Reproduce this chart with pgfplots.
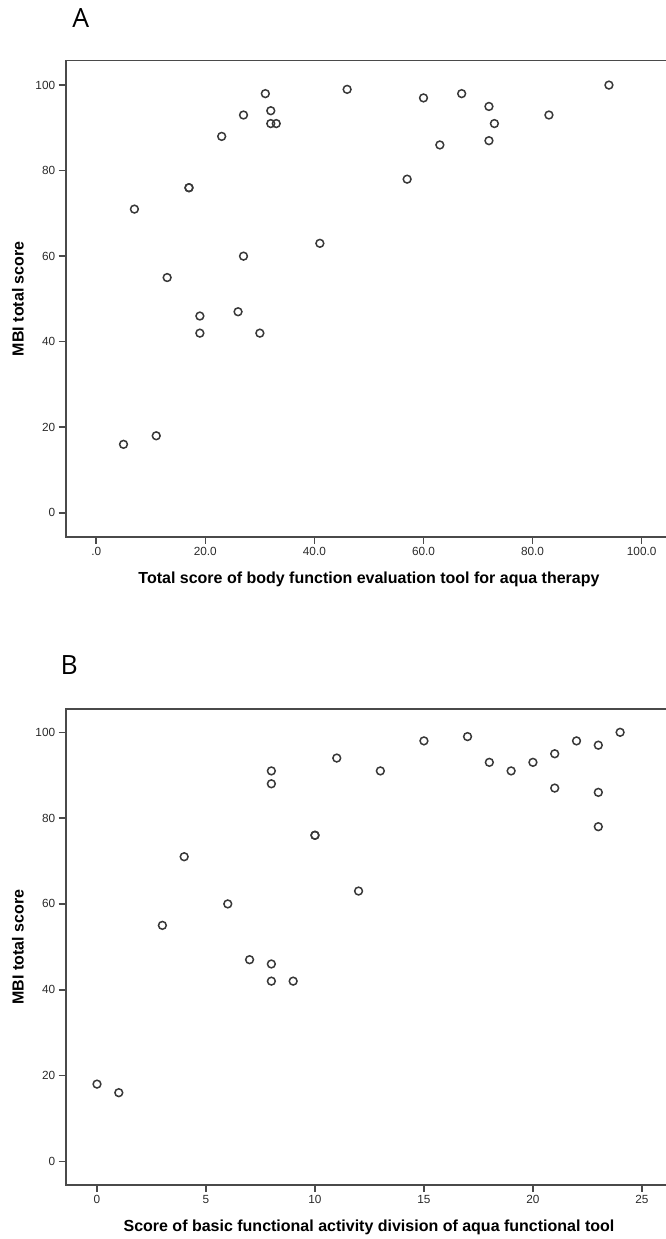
\documentclass[border=0pt]{standalone}
\usepackage{pgfplots}
\pgfplotsset{compat=1.18}
\usepackage{fontspec}
\setmainfont{Liberation Sans}
\newfontfamily\panelfont{Open Sans}
\definecolor{axgray}{HTML}{4A4A4A}
\definecolor{markgray}{HTML}{383838}
\definecolor{txtgray}{HTML}{2A2A2A}

\pgfplotsset{
  spss/.style={
    scale only axis, width=606.5pt, height=476pt,
    anchor=south west,
    axis line style={axgray, line width=1.6pt},
    tick style={axgray, line width=1.6pt},
    tick align=outside, major tick length=7pt,
    xtick pos=left, ytick pos=left,
    ytick={0,20,...,100},
    ticklabel style={font=\fontsize{11.8}{12}\selectfont, text=txtgray},
    /pgf/number format/assume math mode=true,
    label style={font=\bfseries\fontsize{16}{18}\selectfont, text=black},
    xlabel style={at={(axis description cs:0.5,-0.0889)}, anchor=center},
    ylabel style={at={(axis description cs:-0.0787,0.5)}, anchor=center},
  },
  spssmark/.style={only marks, mark=o, mark size=3.9pt, color=markgray,
    mark options={draw=markgray, fill=white, line width=1.5pt}},
}

\begin{document}
\begin{tikzpicture}[x=1pt,y=1pt]
\useasboundingbox (0,0) rectangle (666,-1239);
\node[font=\panelfont\fontsize{26.5}{28}\selectfont] at (80.7,-18.3) {A};
\node[font=\panelfont\fontsize{26.5}{28}\selectfont] at (69.3,-665) {B};

\begin{axis}[spss, at={(65.7pt,-536.7pt)},
  xmin=-5.6, xmax=105.6, ymin=-5.6, ymax=105.7,
  xtick={0,20,...,100}, xticklabels={.0,20.0,40.0,60.0,80.0,100.0},
  xlabel={Total score of body function evaluation tool for aqua therapy},
  ylabel={MBI total score}]
\addplot[spssmark] coordinates {
(5,16) (11,18) (7,71) (13,55) (17,76) (17,76) (19,46) (19,42) (23,88)
(26,47) (27,60) (27,93) (30,42) (31,98) (32,94) (32,91) (33,91) (41,63)
(46,99) (57,78) (60,97) (63,86) (67,98) (72,95) (73,91) (72,87) (83,93)
(94,100)
};
\end{axis}

\begin{axis}[spss, at={(65.7pt,-1185pt)},
  xmin=-1.436, xmax=26.39, ymin=-5.52, ymax=105.43,
  xtick={0,5,...,25},
  xlabel={Score of basic functional activity division of aqua functional tool},
  ylabel={MBI total score}]
\addplot[spssmark] coordinates {
(0,18) (1,16) (3,55) (4,71) (6,60) (7,47) (8,91) (8,88) (8,46) (8,42)
(9,42) (10,76) (10,76) (11,94) (12,63) (13,91) (15,98) (17,99) (18,93)
(19,91) (20,93) (21,95) (21,87) (22,98) (23,97) (23,86) (23,78) (24,100)
};
\end{axis}
\end{tikzpicture}
\end{document}
